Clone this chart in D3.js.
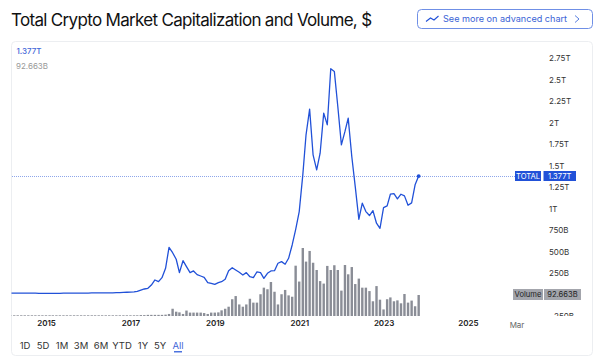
<!DOCTYPE html>
<html>
<head>
<meta charset="utf-8">
<script src="https://cdn.jsdelivr.net/npm/d3@7"></script>
<style>
  html, body { margin: 0; padding: 0; background: #fff; }
  svg { display: block; font-family: Inter, "Liberation Sans", sans-serif; }
</style>
</head>
<body>
<svg id="chart" width="600" height="364"></svg>
<script>
// monthly values in billions
const firstMonth = new Date(2013, 0, 1);

const capValues = [
  21, 21, 20, 20, 19, 19, 18, 18, 18, 17, 17, 16,
  15, 15, 15, 15, 15, 15, 15, 15, 15, 15, 14, 14,
  14, 14, 14, 14, 14, 15, 15, 15, 15, 15, 16, 16,
  17, 18, 18, 19, 19, 20, 20, 20, 21, 22, 24, 26,
  28, 30, 37, 52, 64, 72, 110, 169, 149, 196, 305, 549,
  486, 410, 254, 393, 324, 254, 274, 231, 215, 200, 138, 130,
  118, 138, 149, 177, 277, 312, 285, 258, 227, 254, 207, 196,
  262, 254, 188, 247, 274, 277, 363, 382, 352, 421, 576, 755,
  964, 1391, 1857, 2155, 1624, 1449, 1643, 2109, 1973, 2625, 2594, 2186,
  1740, 1896, 2051, 1605, 1255, 875, 1062, 964, 918, 976, 829, 770,
  1010, 1030, 1166, 1174, 1112, 1166, 1147, 1038, 1065, 1275, 1377
];

const volumeValues = [
  3, 3, 3, 3, 3, 3, 3, 3, 3, 3, 3, 3,
  3, 3, 3, 3, 3, 3, 3, 3, 3, 3, 3, 3,
  3, 3, 3, 3, 3, 3, 3, 3, 3, 3, 3, 3,
  3, 3, 3, 3, 3, 3, 3, 3, 3, 3, 3, 3,
  3, 3, 3, 4, 4, 5, 5, 5, 5, 5, 6, 9,
  32, 19, 16, 9, 24, 15, 15, 15, 15, 13, 9, 15,
  15, 16, 25, 32, 41, 74, 88, 51, 41, 51, 76, 59,
  59, 96, 125, 118, 150, 107, 51, 96, 115, 91, 85, 222,
  152, 300, 240, 287, 235, 203, 154, 143, 221, 203, 224, 203,
  112, 225, 184, 216, 141, 165, 125, 125, 110, 65, 132, 72,
  29, 74, 82, 65, 69, 56, 97, 59, 68, 43, 92.663
];

const yTicks = [-250, 250, 500, 750, 1000, 1250, 1500, 1750, 2000, 2250, 2500, 2750];
const yTickLabels = ["\u2212250B", "250B", "500B", "750B", "1T", "1.25T", "1.5T", "1.75T", "2T", "2.25T", "2.5T", "2.75T"];
const xTickYears = [2015, 2017, 2019, 2021, 2023, 2025];
const rangeLabels = ["1D", "5D", "1M", "3M", "6M", "YTD", "1Y", "5Y", "All"];
const rangeLabelX = [25, 43, 62, 81, 101, 122, 143, 160, 178];

const BLUE = "#2151d8",
      GREY = "#8a8d96";

const data = capValues.map((v, i) => ({
  date: d3.timeMonth.offset(firstMonth, i),
  cap: v,
  volume: volumeValues[i]
}));

const svg = d3.select("#chart");

const x = d3.scaleTime()
  .domain([new Date(2015, 0, 1), new Date(2025, 0, 1)])
  .range([46, 468]);

const y = d3.scaleLinear()
  .domain([0, 2750])
  .range([294.5, 58]);

const yVolume = d3.scaleLinear()
  .domain([0, 92.663])
  .range([316, 295]);

svg.append("clipPath").attr("id", "plot")
  .append("rect")
  .attr("x", 11.5).attr("y", 42).attr("width", 500).attr("height", 274);

// the -250B label is cut by the pane edge
svg.append("clipPath").attr("id", "axis-pane")
  .append("rect")
  .attr("x", 540).attr("y", 42).attr("width", 52).attr("height", 274);

// title + button
svg.append("text")
  .attr("x", 11).attr("y", 26)
  .attr("font-size", 17).attr("fill", "#111")
  .attr("letter-spacing", -0.68)
  .text("Total Crypto Market Capitalization and Volume, $");

svg.append("rect")
  .attr("x", 417.5).attr("y", 9.5).attr("width", 175).attr("height", 19).attr("rx", 4)
  .attr("fill", "#fff").attr("stroke", "#6f8fe6");

svg.append("path")
  .attr("d", "M426 21.5l4.5-3.5 3.5 2 4.5-4")
  .attr("fill", "none").attr("stroke", BLUE).attr("stroke-width", 1.1);

svg.append("text")
  .attr("x", 443).attr("y", 22.3)
  .attr("font-size", 9.1).attr("fill", "#3a63d6")
  .text("See more on advanced chart");

svg.append("path")
  .attr("d", "M575 15.5l4 3.5-4 3.5")
  .attr("fill", "none").attr("stroke", "#5a7fe0").attr("stroke-width", 1);

// card
svg.append("rect")
  .attr("x", 11.5).attr("y", 41.5).attr("width", 581).attr("height", 314).attr("rx", 4)
  .attr("fill", "#fff").attr("stroke", "#eceef1");

// volume bars
svg.append("g").attr("clip-path", "url(#plot)")
  .selectAll("rect")
  .data(data)
  .join("rect")
  .attr("x", (d) => x(d.date) - 1.2)
  .attr("y", (d) => yVolume(d.volume))
  .attr("width", 2.4)
  .attr("height", (d) => yVolume(0) - yVolume(d.volume))
  .attr("fill", GREY);

// crosshair
svg.append("line")
  .attr("x1", 12).attr("x2", 515)
  .attr("y1", Math.round(y(1377)) + 0.5).attr("y2", Math.round(y(1377)) + 0.5)
  .attr("stroke", "#8ea6ea").attr("stroke-width", 1).attr("stroke-dasharray", "1 1");

// market cap line
const line = d3.line()
  .x((d) => x(d.date))
  .y((d) => y(d.cap));

svg.append("path")
  .datum(data)
  .attr("clip-path", "url(#plot)")
  .attr("d", line)
  .attr("fill", "none")
  .attr("stroke", BLUE)
  .attr("stroke-width", 1.3)
  .attr("stroke-linejoin", "round");

const last = data[data.length - 1];

svg.append("circle")
  .attr("cx", x(last.date)).attr("cy", y(last.cap)).attr("r", 1.9)
  .attr("fill", BLUE);

// y axis
const yAxis = d3.axisRight(y)
  .tickValues(yTicks)
  .tickSize(0)
  .tickPadding(0)
  .tickFormat((d, i) => yTickLabels[i]);

svg.append("g")
  .attr("clip-path", "url(#axis-pane)")
  .append("g")
  .attr("transform", "translate(549,0)")
  .call(yAxis)
  .call((g) => g.select(".domain").remove())
  .selectAll("text")
  .attr("font-family", "Inter, 'Liberation Sans', sans-serif")
  .attr("font-size", 8)
  .attr("fill", "#333");

// x axis
const xAxis = d3.axisBottom(x)
  .tickValues(xTickYears.map((yr) => new Date(yr, 0, 1)))
  .tickSize(0)
  .tickPadding(0)
  .tickFormat(d3.timeFormat("%Y"));

svg.append("g")
  .attr("transform", "translate(0,320)")
  .call(xAxis)
  .call((g) => g.select(".domain").remove())
  .selectAll("text")
  .attr("font-family", "Inter, 'Liberation Sans', sans-serif")
  .attr("font-size", 8)
  .attr("font-weight", 600)
  .attr("fill", "#222");

svg.append("text")
  .attr("x", 517).attr("y", 327.5)
  .attr("text-anchor", "middle")
  .attr("font-size", 8).attr("fill", "#666")
  .text("Mar");

// header values
svg.append("text")
  .attr("x", 16.5).attr("y", 54)
  .attr("font-size", 8).attr("font-weight", 500).attr("fill", "#3f66d8")
  .text("1.377T");

svg.append("text")
  .attr("x", 16).attr("y", 68.5)
  .attr("font-size", 8).attr("fill", "#999")
  .text("92.663B");

// price tags
function tag(x0, w, yMid, h, fill, color, label) {
  svg.append("rect")
    .attr("x", x0).attr("y", yMid - h / 2).attr("width", w).attr("height", h)
    .attr("fill", fill);
  svg.append("text")
    .attr("x", x0 + w / 2).attr("y", yMid + 2.8)
    .attr("text-anchor", "middle")
    .attr("font-size", 7.6).attr("fill", color)
    .text(label);
}

tag(515, 26, 176, 10, BLUE, "#fff", "TOTAL");
tag(543.5, 32.5, 176, 10, BLUE, "#fff", "1.377T");
tag(513, 30, 294.5, 11, "#a3a5ac", "#222", "Volume");
tag(544, 37, 294.5, 11, "#a3a5ac", "#222", "92.663B");

// range selector
svg.append("g")
  .selectAll("text")
  .data(rangeLabels)
  .join("text")
  .attr("x", (d, i) => rangeLabelX[i])
  .attr("y", 348.5)
  .attr("text-anchor", "middle")
  .attr("font-size", 9.5)
  .attr("fill", (d) => d === "All" ? "#3f66d8" : "#333")
  .text((d) => d);

svg.append("rect")
  .attr("x", 174).attr("y", 351.2).attr("width", 8).attr("height", 1.2)
  .attr("fill", BLUE);
</script>
</body>
</html>
